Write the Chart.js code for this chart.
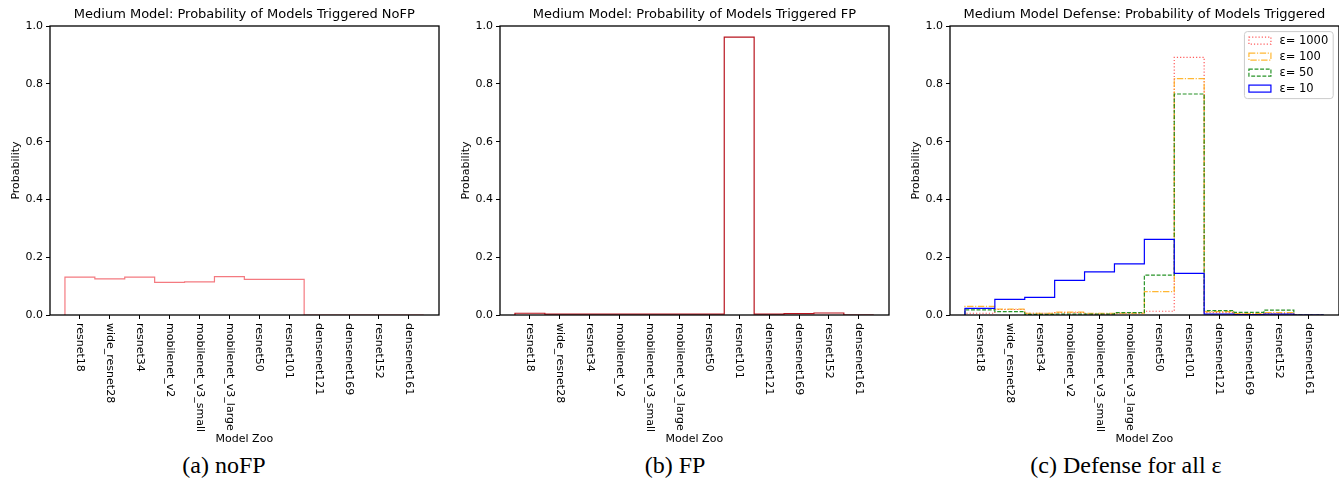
<!DOCTYPE html>
<html>
<head>
<meta charset="utf-8">
<script src="https://cdn.jsdelivr.net/npm/chart.js@4.4.1/dist/chart.umd.min.js"></script>
<style>
  body { margin: 0; background: #fff; width: 1339px; height: 481px; position: relative; overflow: hidden; }
  canvas { position: absolute; top: 0; }
  .cap { position: absolute; top: 451px; width: 300px; text-align: center; font-family: 'Liberation Serif', 'DejaVu Serif', serif; font-size: 24px; line-height: 28px; color: #000; }
</style>
</head>
<body>
<canvas id="chartA" width="450" height="446" style="left:0px"></canvas>
<canvas id="chartB" width="450" height="446" style="left:450px"></canvas>
<canvas id="chartC" width="439" height="446" style="left:900px"></canvas>
<div class="cap" style="left:74px">(a) noFP</div>
<div class="cap" style="left:525px">(b) FP</div>
<div class="cap" style="left:976px">(c) Defense for all ε</div>
<script>
const models = ['resnet18', 'wide_resnet28', 'resnet34', 'mobilenet_v2', 'mobilenet_v3_small', 'mobilenet_v3_large',
    'resnet50', 'resnet101', 'densenet121', 'densenet169', 'resnet152', 'densenet161'];
const yTicks = [0, 0.2, 0.4, 0.6, 0.8, 1.0];

// probability per model
const noFP = [0.131, 0.125, 0.131, 0.113, 0.115, 0.133, 0.123, 0.123, 0, 0, 0, 0];
const withFP = [0.006, 0.003, 0.003, 0.003, 0.003, 0.003, 0.003, 0.962, 0.003, 0.005, 0.007, 0];

const epsilons = [1000, 100, 50, 10];
const eps1000 = [0.006, 0.019, 0.006, 0.008, 0.003, 0.006, 0.013, 0.892, 0.008, 0.003, 0.006, 0];
const eps100 = [0.030, 0.020, 0.006, 0.010, 0.006, 0.006, 0.081, 0.818, 0.012, 0.005, 0.008, 0];
const eps50 = [0.018, 0.012, 0.002, 0.003, 0.003, 0.008, 0.138, 0.765, 0.015, 0.009, 0.017, 0];
const eps10 = [0.023, 0.054, 0.061, 0.120, 0.149, 0.177, 0.262, 0.144, 0.003, 0.001, 0.003, 0];

Chart.defaults.font.family = "'DejaVu Sans', sans-serif";
Chart.defaults.color = '#000';

// histogram outline (histtype='step'), bins centred on each model tick
function stepPoints(vals) {
    const pts = [{ x: -0.5, y: 0 }];
    vals.forEach((v, i) => pts.push({ x: i - 0.5, y: v }));
    pts.push({ x: vals.length - 0.5, y: 0 });
    return pts;
}

function stepSet(label, vals, color, dash, order) {
    return {
        label: label,
        data: stepPoints(vals),
        borderColor: color,
        borderWidth: 1.2,
        borderDash: dash,
        stepped: true,
        pointRadius: 0,
        fill: false,
        order: order
    };
}

function framePlugin(showLegend) {
    return {
        id: 'frame',
        afterDraw(chart) {
            const ctx = chart.ctx;
            const a = chart.chartArea;
            const xs = chart.scales.x;
            ctx.save();
            ctx.strokeStyle = '#000';
            ctx.lineWidth = 1.3;
            ctx.setLineDash([]);
            const l = Math.round(a.left), t = Math.round(a.top), r = Math.round(a.right), b = Math.round(a.bottom);
            ctx.strokeRect(l, t, r - l, b - t);

            // x tick labels, rotated to read top-down
            ctx.font = "11px 'DejaVu Sans'";
            ctx.fillStyle = '#000';
            ctx.textAlign = 'left';
            ctx.textBaseline = 'middle';
            models.forEach((m, i) => {
                ctx.save();
                ctx.translate(xs.getPixelForValue(i), b + 8);
                ctx.rotate(Math.PI / 2);
                ctx.fillText(m, 0, 0);
                ctx.restore();
            });

            if (showLegend) {
                ctx.font = "11.5px 'DejaVu Sans'";
                const sets = chart.data.datasets;
                const tw = Math.max(...sets.map(d => ctx.measureText(d.label).width));
                const w = 4 + 22 + 9 + tw + 5;
                const h = sets.length * 16 + 3;
                const x0 = a.right - 5.5 - w, y0 = a.top + 5.5;
                ctx.fillStyle = 'rgba(255,255,255,0.8)';
                ctx.strokeStyle = '#cccccc';
                ctx.lineWidth = 1;
                ctx.beginPath();
                ctx.roundRect(x0, y0, w, h, 3);
                ctx.fill();
                ctx.stroke();
                sets.forEach((d, i) => {
                    const cy = y0 + 9 + i * 16;
                    ctx.strokeStyle = d.borderColor;
                    ctx.lineWidth = d.borderWidth;
                    ctx.setLineDash(d.borderDash || []);
                    ctx.strokeRect(x0 + 4.5, cy - 3.5, 22, 7);
                    ctx.setLineDash([]);
                    ctx.fillStyle = '#000';
                    ctx.textAlign = 'left';
                    ctx.textBaseline = 'middle';
                    ctx.fillText(d.label, x0 + 35, cy);
                });
            }
            ctx.restore();
        }
    };
}

function makeChart(id, title, datasets, rightPad, showLegend) {
    return new Chart(document.getElementById(id), {
        type: 'line',
        data: { datasets: datasets },
        options: {
            responsive: false,
            animation: false,
            layout: { padding: { left: 0, right: rightPad, top: 0, bottom: 0 } },
            plugins: {
                legend: { display: false },
                tooltip: { enabled: false },
                title: {
                    display: true,
                    text: title,
                    fullSize: false,
                    font: { size: 13, weight: 'normal' },
                    color: '#000',
                    padding: { top: 6.5, bottom: 4 }
                }
            },
            scales: {
                x: {
                    type: 'linear',
                    min: -1,
                    max: 12,
                    afterBuildTicks: s => { s.ticks = models.map((m, i) => ({ value: i })); },
                    afterFit: s => { s.height = 131; },
                    ticks: { display: false },
                    grid: { display: true, drawOnChartArea: false, drawTicks: true, tickLength: 4, color: '#000', lineWidth: 1 },
                    border: { display: false },
                    title: { display: true, text: 'Model Zoo', font: { size: 11 }, color: '#000', padding: { top: 0, bottom: 0 } }
                },
                y: {
                    min: 0,
                    max: 1,
                    afterBuildTicks: s => { s.ticks = yTicks.map(v => ({ value: v })); },
                    afterFit: s => { s.width = 50; },
                    ticks: { padding: 3, font: { size: 11 }, color: '#000', callback: v => v.toFixed(1) },
                    grid: { display: true, drawOnChartArea: false, drawTicks: true, tickLength: 4, color: '#000', lineWidth: 1 },
                    border: { display: false },
                    title: { display: true, text: 'Probability', font: { size: 11 }, color: '#000', padding: { top: 9.5, bottom: 0 } }
                }
            }
        },
        plugins: [framePlugin(showLegend)]
    });
}

makeChart('chartA', 'Medium Model: Probability of Models Triggered NoFP',
    [stepSet('noFP', noFP, '#f47a80', [], 0)], 11.3, false);

makeChart('chartB', 'Medium Model: Probability of Models Triggered FP',
    [stepSet('FP', withFP, '#b8141e', [], 0)], 11.3, false);

const epsSeries = [eps1000, eps100, eps50, eps10];
const epsColors = ['rgba(255,0,0,0.65)', 'rgba(255,165,0,0.8)', 'rgba(0,128,0,0.85)', '#0000ff'];
const epsDash = [[1.2, 2], [6.4, 1.6, 1.2, 1.6], [3.9, 1.7], []];
makeChart('chartC', 'Medium Model Defense: Probability of Models Triggered',
    epsilons.map((e, i) => stepSet('ε= ' + e, epsSeries[i], epsColors[i], epsDash[i], epsilons.length - i)),
    0.3, true);
</script>
</body>
</html>
